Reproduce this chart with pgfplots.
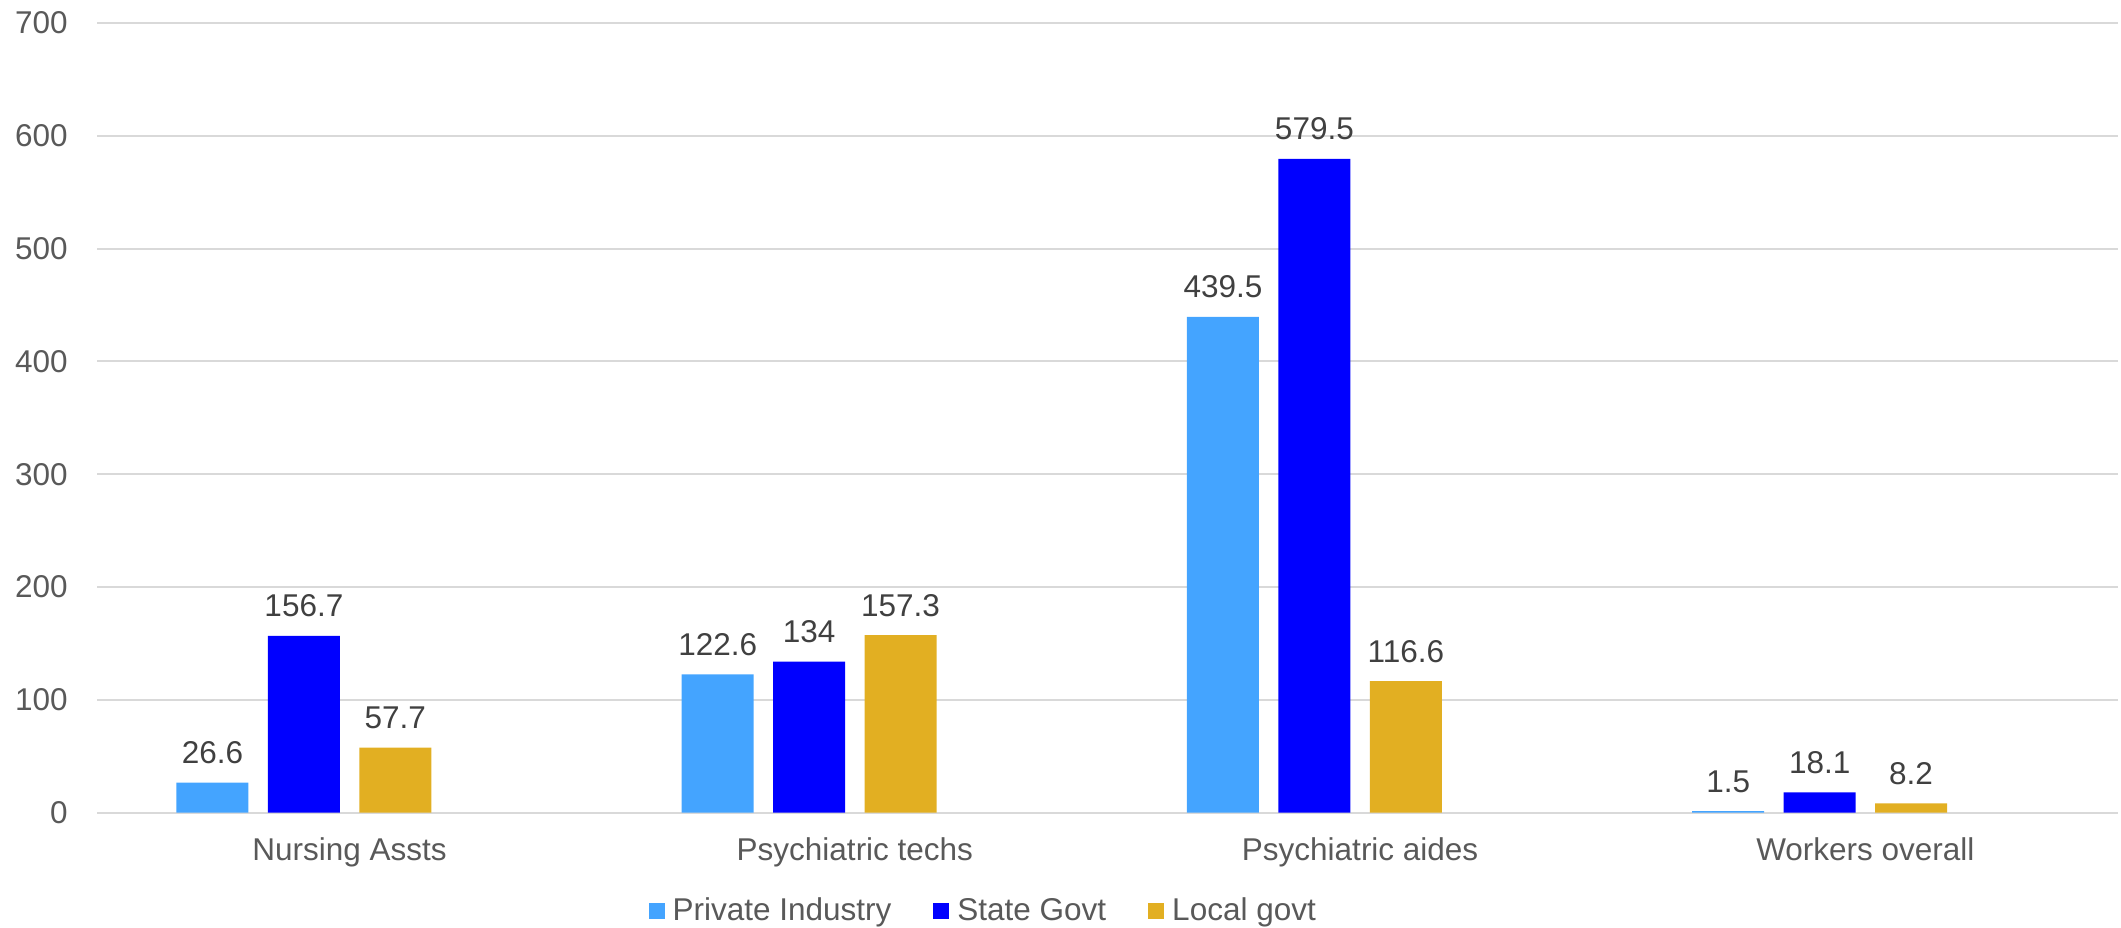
\documentclass[border=0pt]{standalone}
\usepackage{fontspec}
\setmainfont{Liberation Sans}
\usepackage{pgfplots}
\pgfplotsset{compat=1.18}

\definecolor{privblue}{HTML}{44A4FF}
\definecolor{stateblue}{HTML}{0000FF}
\definecolor{localgold}{HTML}{E2AF22}
\definecolor{gridgray}{HTML}{D9D9D9}
\definecolor{ticktext}{HTML}{595959}
\definecolor{labeltext}{HTML}{404040}

\newcommand{\chartfont}{\fontsize{15.75}{18}\selectfont}

\begin{document}
\begin{tikzpicture}[x=1pt,y=1pt]
\begin{axis}[
  at={(48.5pt,57.15pt)}, anchor=south west,
  scale only axis, width=1010.5pt, height=394.85pt,
  ybar, bar width=0.1425,
  xmin=-0.5, xmax=3.5, ymin=0, ymax=700,
  xtick={0,1,2,3},
  xticklabels={Nursing Assts,Psychiatric techs,Psychiatric aides,Workers overall},
  ytick={0,100,...,700},
  ymajorgrids, grid style={gridgray, line width=1pt},
  axis line style={draw=none},
  major tick length=0pt,
  tick label style={font=\chartfont, text=ticktext},
  yticklabel style={anchor=east, inner sep=0pt, xshift=-14.5pt},
  xticklabel style={anchor=north, inner sep=0pt, yshift=-12.5pt},
  /pgf/number format/assume math mode=true,
  nodes near coords,
  every node near coord/.append style={font=\chartfont, text=labeltext,
    anchor=base, inner sep=0pt, yshift=9.5pt},
  legend columns=3,
  legend style={draw=none, at={(0.438,-0.1245)}, anchor=center,
    font=\chartfont, text=ticktext, inner sep=0pt, nodes={inner sep=0pt},
    /tikz/every odd column/.append style={column sep=4pt},
    /tikz/every even column/.append style={column sep=21pt}},
  legend image code/.code={\draw[#1,draw=none] (0pt,-4pt) rectangle (8pt,4pt);},
]
% Private industry
\addplot[fill=privblue, draw=none, bar shift=-0.2715]
  coordinates {(0,26.6) (1,122.6) (2,439.5) (3,1.5)};
% State government
\addplot[fill=stateblue, draw=none, bar shift=-0.0905]
  coordinates {(0,156.7) (1,134) (2,579.5) (3,18.1)};
% Local government
\addplot[fill=localgold, draw=none, bar shift=0.0905]
  coordinates {(0,57.7) (1,157.3) (2,116.6) (3,8.2)};
\legend{Private Industry,State Govt,Local govt}
\end{axis}
\pgfresetboundingbox
\path (0,0) rectangle (1060.5,463.5);
\end{tikzpicture}
\end{document}
